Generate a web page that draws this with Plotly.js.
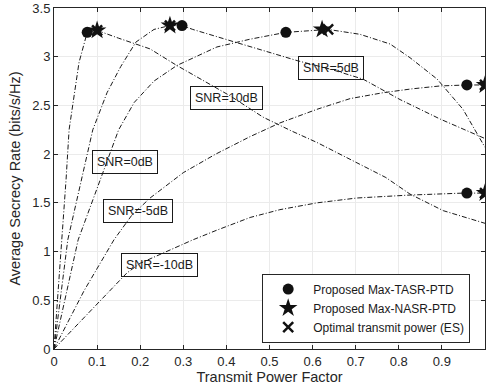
<!DOCTYPE html>
<html>
<head>
<meta charset="utf-8">
<script src="https://cdn.plot.ly/plotly-3.0.1.min.js"></script>
<style>html,body{margin:0;padding:0;background:#fff;}#chart{width:486px;height:392px;}</style>
</head>
<body>
<div id="chart"></div>
<script>
// Curves: transmit power factor vs average secrecy rate
const snr10X = [0, 0.0186, 0.028, 0.035, 0.046, 0.058, 0.074, 0.077, 0.088, 0.1, 0.15, 0.223, 0.285, 0.35, 0.408, 0.485, 0.55, 0.61, 0.703, 0.77, 0.826, 0.903, 1.0];
const snr10Y = [0, 1.12, 1.74, 2.25, 2.56, 2.94, 3.2, 3.25, 3.26, 3.27, 3.19, 3.08, 2.91, 2.75, 2.60, 2.38, 2.24, 2.12, 1.91, 1.76, 1.59, 1.42, 1.29];

const snr5X = [0, 0.032, 0.09, 0.123, 0.155, 0.19, 0.232, 0.269, 0.297, 0.322, 0.42, 0.524, 0.564, 0.643, 0.717, 0.803, 0.896, 1.0];
const snr5Y = [0, 1.12, 2.25, 2.63, 2.90, 3.15, 3.28, 3.32, 3.32, 3.28, 3.15, 3.01, 2.96, 2.87, 2.77, 2.56, 2.36, 2.16];

const snr0X = [0, 0.056, 0.15, 0.186, 0.232, 0.285, 0.378, 0.455, 0.538, 0.622, 0.636, 0.71, 0.78, 0.826, 0.889, 0.949, 1.0];
const snr0Y = [0, 1.12, 2.25, 2.53, 2.75, 2.91, 3.10, 3.18, 3.25, 3.28, 3.28, 3.23, 3.13, 2.99, 2.77, 2.46, 2.07];

const snrM5X = [0, 0.07, 0.139, 0.18, 0.223, 0.3, 0.375, 0.455, 0.524, 0.61, 0.687, 0.763, 0.83, 0.896, 0.958, 1.0];
const snrM5Y = [0, 0.6, 1.12, 1.37, 1.55, 1.81, 2.0, 2.18, 2.32, 2.46, 2.57, 2.63, 2.67, 2.70, 2.71, 2.71];

const snrM10X = [0, 0.085, 0.169, 0.2, 0.269, 0.322, 0.378, 0.455, 0.524, 0.61, 0.703, 0.826, 0.949, 1.0];
const snrM10Y = [0, 0.39, 0.78, 0.88, 1.02, 1.12, 1.22, 1.35, 1.43, 1.50, 1.55, 1.58, 1.60, 1.60];

// Markers
const tasrX = [0.077, 0.297, 0.538, 0.958, 0.958];
const tasrY = [3.25, 3.32, 3.25, 2.71, 1.60];
const nasrX = [0.1, 0.269, 0.622, 1.0, 1.0];
const nasrY = [3.27, 3.32, 3.28, 2.71, 1.60];
const esX = [0.1, 0.269, 0.636, 1.0, 1.0];
const esY = [3.27, 3.32, 3.28, 2.71, 1.60];

// Labels
const labelText = ['SNR=10dB', 'SNR=5dB', 'SNR=0dB', 'SNR=-5dB', 'SNR=-10dB'];
const labelX = [0.401, 0.643, 0.165, 0.195, 0.244];
const labelY = [2.58, 2.88, 1.92, 1.42, 0.86];

const legendNames = ['Proposed Max-TASR-PTD', 'Proposed Max-NASR-PTD', 'Optimal transmit power (ES)'];

const lineStyle = {color: '#1a1a1a', width: 1, dash: '5px,2px,1px,2px'};
const curves = [[snr10X, snr10Y], [snr5X, snr5Y], [snr0X, snr0Y], [snrM5X, snrM5Y], [snrM10X, snrM10Y]];
const traces = curves.map(c => ({
  x: c[0], y: c[1], mode: 'lines', type: 'scatter', line: lineStyle, showlegend: false, hoverinfo: 'skip'
}));

traces.push({x: esX, y: esY, mode: 'markers', type: 'scatter', name: legendNames[2], legendrank: 3,
  marker: {symbol: 'x-thin-open', size: 10, color: '#111', line: {color: '#111', width: 2.5}}});
traces.push({x: tasrX, y: tasrY, mode: 'markers', type: 'scatter', name: legendNames[0], legendrank: 1,
  marker: {symbol: 'circle', size: 11, color: '#111'}});
traces.push({x: nasrX, y: nasrY, mode: 'markers', type: 'scatter', name: legendNames[1], legendrank: 2,
  marker: {symbol: 'star', size: 14, color: '#111'}});

const annotations = labelText.map((t, i) => ({
  x: labelX[i], y: labelY[i], xref: 'x', yref: 'y', text: t, showarrow: false,
  font: {family: 'Liberation Sans, Arial, sans-serif', size: 12.5, color: '#1a1a1a'},
  bordercolor: '#1a1a1a', borderwidth: 1, borderpad: 4, bgcolor: 'rgba(0,0,0,0)'
}));

const axisCommon = {
  ticks: 'inside', ticklen: 4, tickcolor: '#262626', showline: true, mirror: 'ticks',
  linecolor: '#262626', linewidth: 1, showgrid: true, gridcolor: '#ebebeb', gridwidth: 1,
  zeroline: false, tickfont: {family: 'Liberation Sans, Arial, sans-serif', size: 13, color: '#262626'}
};

const layout = {
  width: 486, height: 392,
  margin: {l: 54, r: 1, t: 8, b: 43},
  paper_bgcolor: '#fff', plot_bgcolor: '#fff',
  font: {family: 'Liberation Sans, Arial, sans-serif', color: '#262626'},
  xaxis: Object.assign({}, axisCommon, {range: [0, 1], tick0: 0, dtick: 0.1,
    title: {text: 'Transmit Power Factor', font: {size: 14.5, color: '#262626'}, standoff: 4}}),
  yaxis: Object.assign({}, axisCommon, {range: [0, 3.5], tick0: 0, dtick: 0.5,
    title: {text: 'Average Secrecy Rate (bits/s/Hz)', font: {size: 14.5, color: '#262626'}, standoff: 8}}),
  annotations: annotations,
  showlegend: true,
  legend: {x: 0.483, xanchor: 'left', y: 0.12, yanchor: 'middle', bgcolor: '#fff', itemwidth: 40,
    bordercolor: '#262626', borderwidth: 1, font: {size: 12, color: '#1a1a1a'}}
};

Plotly.newPlot('chart', traces, layout, {displayModeBar: false, staticPlot: true});
</script>
</body>
</html>
